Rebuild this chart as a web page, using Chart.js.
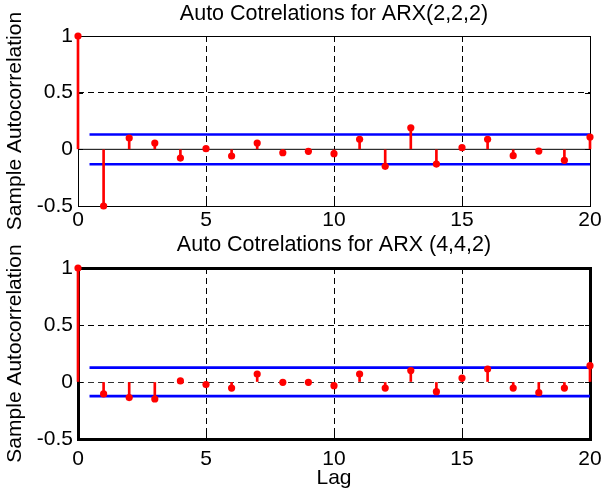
<!DOCTYPE html>
<html>
<head>
<meta charset="utf-8">
<script src="https://cdn.jsdelivr.net/npm/chart.js@4/dist/chart.umd.min.js"></script>
<style>
  html, body { margin:0; padding:0; background:#fff; }
  #wrap { position:relative; width:605px; height:498px; }
  canvas { position:absolute; left:0; }
  #acf1 { top:0; }
  #acf2 { top:232px; }
</style>
</head>
<body>
<div id="wrap">
  <canvas id="acf1" width="605" height="232"></canvas>
  <canvas id="acf2" width="605" height="266"></canvas>
</div>
<script>
// sample autocorrelations of the residuals, lags 0..20
const lags = [0,1,2,3,4,5,6,7,8,9,10,11,12,13,14,15,16,17,18,19,20];
const acfArx222 = [1, -0.5, 0.10, 0.056, -0.077, 0.006, -0.059, 0.056, -0.03, -0.018, -0.038,
                   0.088, -0.15, 0.19, -0.13, 0.015, 0.088, -0.056, -0.015, -0.097, 0.109];
const acfArx442 = [1, -0.105, -0.137, -0.149, 0.009, -0.023, -0.053, 0.07, -0.003, -0.003, -0.032,
                   0.07, -0.053, 0.10, -0.085, 0.035, 0.114, -0.053, -0.094, -0.053, 0.143];
// confidence bounds (upper, lower) and where they start/end on the lag axis
const boundArx222 = [0.131, -0.131];
const boundArx442 = [0.126, -0.124];
const boundLags = [0.45, 20];
const xTicks = [0, 5, 10, 15, 20];
const yTicks = [-0.5, 0, 0.5, 1];

const FONT = "'Liberation Sans', Arial, Helvetica, sans-serif";
const RED = '#ff0000', BLUE = '#0000ff';

// axes box + small inward ticks (under the stems), title centred over the plot area
const boxPlugin = {
  id:'box',
  beforeDatasetsDraw(chart, args, opts) {
    const {ctx, chartArea:a, scales:{x, y}} = chart;
    ctx.save();
    ctx.strokeStyle = '#000';
    ctx.lineWidth = 1;
    ctx.beginPath();
    xTicks.forEach(v => {
      const px = Math.round(x.getPixelForValue(v)) + 0.5;
      ctx.moveTo(px, a.bottom); ctx.lineTo(px, a.bottom - 5);
      ctx.moveTo(px, a.top);    ctx.lineTo(px, a.top + 5);
    });
    yTicks.forEach(v => {
      const py = Math.round(y.getPixelForValue(v)) + 0.5;
      ctx.moveTo(a.left, py);  ctx.lineTo(a.left + 5, py);
      ctx.moveTo(a.right, py); ctx.lineTo(a.right - 5, py);
    });
    ctx.stroke();
    ctx.lineWidth = opts.width;
    const o = opts.width % 2 ? 0.5 : 0;
    ctx.strokeRect(Math.round(a.left) + o, Math.round(a.top) + o,
                   Math.round(a.right - a.left), Math.round(a.bottom - a.top));

    ctx.fillStyle = '#000';
    ctx.font = '21.5px ' + FONT;
    ctx.textAlign = 'center';
    ctx.textBaseline = 'middle';
    ctx.fillText(opts.title, (a.left + a.right) / 2, opts.titleY);
    ctx.restore();
  }
};

function makeAcf(id, title, acf, bound, cfg) {
  const pts = lags.map((l, i) => ({x:l, y:acf[i]}));
  const datasets = [
    {type:'scatter', data:pts, pointRadius:3.6, pointBackgroundColor:RED,
     pointBorderWidth:0, clip:false},
    {type:'bar', data:pts, backgroundColor:RED, barThickness:2, clip:false},
    {type:'line', data:boundLags.map(l => ({x:l, y:bound[0]})), borderColor:BLUE,
     borderWidth:2.6, pointRadius:0, clip:false},
    {type:'line', data:boundLags.map(l => ({x:l, y:bound[1]})), borderColor:BLUE,
     borderWidth:2.6, pointRadius:0, clip:false},
  ];
  if (cfg.zeroLine) {
    datasets.push({type:'line', data:[{x:0, y:0}, {x:20, y:0}], borderColor:'#000',
                   borderWidth:1, pointRadius:0});
  }

  return new Chart(document.getElementById(id), {
    type:'bar',
    data:{datasets},
    plugins:[boxPlugin],
    options:{
      responsive:false, animation:false, events:[],
      layout:{padding:{left:0, right:15, top:36, bottom:0}},
      plugins:{
        legend:{display:false}, tooltip:{enabled:false},
        box:{width:cfg.frame, title, titleY:cfg.titleY},
      },
      scales:{
        x:{
          type:'linear', min:0, max:20, offset:false,
          afterBuildTicks:s => { s.ticks = xTicks.map(v => ({value:v})); },
          afterFit:s => { s.height = cfg.xHeight; s.paddingLeft = 0; s.paddingRight = 0; },
          ticks:{color:'#000', padding:cfg.xPad, maxRotation:0, font:{family:FONT, size:21}},
          grid:{drawTicks:false, offset:false, lineWidth:1,
                color:c => (c.tick && c.tick.value > 0 && c.tick.value < 20) ? '#000' : 'transparent'},
          border:{display:false, dash:[6,4]},
          title:{display:!!cfg.xTitle, text:cfg.xTitle, color:'#000',
                 font:{family:FONT, size:21}, padding:{top:0, bottom:7}},
        },
        y:{
          min:-0.5, max:1,
          afterBuildTicks:s => { s.ticks = yTicks.map(v => ({value:v})); },
          afterFit:s => { s.width = 78; s.paddingTop = 0; s.paddingBottom = 0; },
          ticks:{color:'#000', padding:5, font:{family:FONT, size:21}, callback:v => String(v)},
          grid:{drawTicks:false, lineWidth:1,
                color:c => {
                  const v = c.tick && c.tick.value;
                  if (v === 0.5) return '#000';
                  if (v === 0 && !cfg.zeroLine) return '#333';
                  return 'transparent';
                }},
          border:{display:false, dash:[6,4]},
          title:{display:true, text:'Sample Autocorrelation', color:'#000',
                 font:{family:FONT, size:21}, padding:{top:3, bottom:0}},
        }
      }
    }
  });
}

makeAcf('acf1', 'Auto Cotrelations for ARX(2,2,2)', acfArx222, boundArx222,
        {zeroLine:true, frame:1, titleY:14.5, xHeight:26, xPad:2, xTitle:''});
makeAcf('acf2', 'Auto Cotrelations for ARX (4,4,2)', acfArx442, boundArx442,
        {zeroLine:false, frame:3, titleY:13.5, xHeight:59, xPad:8, xTitle:'Lag'});
</script>
</body>
</html>
